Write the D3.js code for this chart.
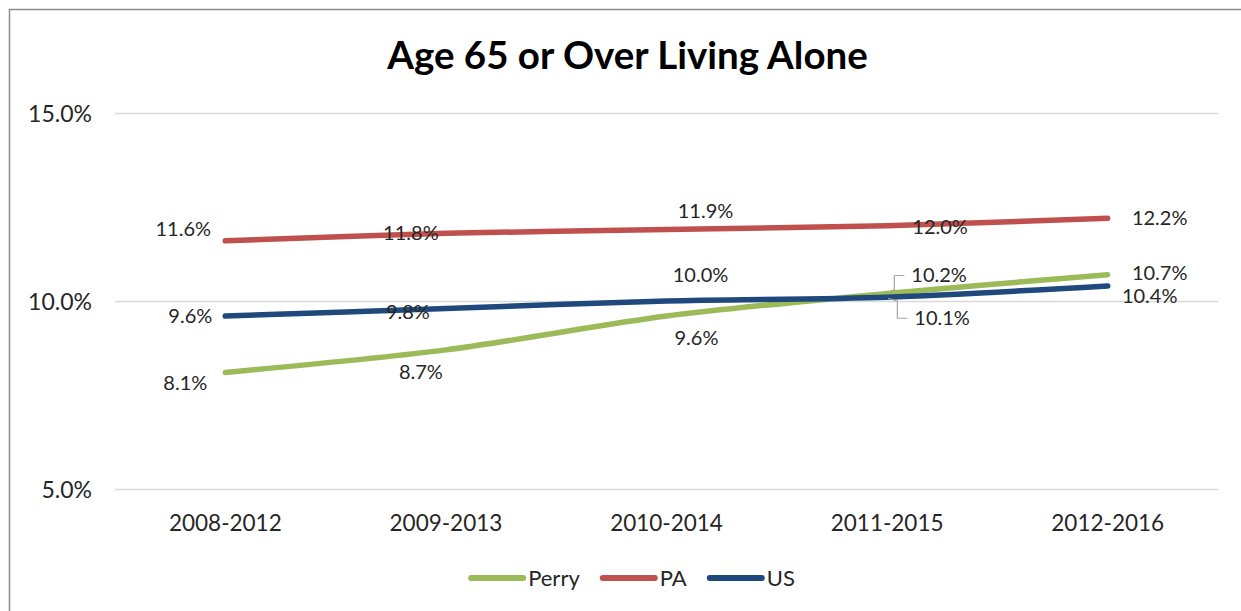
<!DOCTYPE html>
<html><head><meta charset="utf-8">
<script src="https://cdn.jsdelivr.net/npm/d3@7"></script>
<style>
html,body{margin:0;padding:0;background:#fff;overflow:hidden;}
svg{display:block;font-family:Lato,"Open Sans",sans-serif;}
</style></head><body>
<svg id="chart" width="1241" height="611"></svg>
<script>
// ---- data ----
const title = "Age 65 or Over Living Alone";
const categories = ["2008-2012","2009-2013","2010-2014","2011-2015","2012-2016"];
const seriesNames = ["Perry","PA","US"];
const perryValues = [8.1, 8.7, 9.6, 10.2, 10.7];
const paValues = [11.6, 11.8, 11.9, 12.0, 12.2];
const usValues = [9.6, 9.8, 10.0, 10.1, 10.4];
const yTickValues = [5, 10, 15];

// ---- styles / layout ----
const colors = {Perry:"#9BBB59", PA:"#C0504D", US:"#1F497D"};
const labelOffsets = {
  Perry: [[-40,11],[-25,22],[30,22],[52,-18],[52,-2]],
  PA:    [[-42,-12],[-35,0],[39,-19],[53,1],[52,0]],
  US:    [[-35,0],[-38,3],[34,-26],[55,21],[42,10]]
};
const leaderPoints = {Perry:[3,-1], US:[3,1]};

const series = [
  {name:"Perry", values:perryValues},
  {name:"PA", values:paValues},
  {name:"US", values:usValues}
];

const svg = d3.select("#chart");
const W = 1241, H = 611;
const plotL = 115, plotR = 1218, plotT = 113, plotB = 489;

svg.append("path").attr("d", `M9.5,${H+5}V9.5H${W+5}`)
  .attr("fill","none").attr("stroke","#8c8c8c").attr("stroke-width",1.5);

const x = d3.scaleBand().domain(categories).range([plotL,plotR]);
const xc = c => x(c) + x.bandwidth()/2;
const y = d3.scaleLinear().domain([5,15]).range([plotB, plotT]);

const yAxis = svg.append("g").attr("transform",`translate(${plotL},0)`)
  .call(d3.axisLeft(y).tickValues(yTickValues).tickSize(-(plotR-plotL)).tickPadding(23)
    .tickFormat(d => d.toFixed(1)+"%"));
yAxis.select(".domain").remove();
yAxis.selectAll(".tick line").attr("stroke","#d9d9d9").attr("stroke-width",1.5);
yAxis.selectAll(".tick text").attr("fill","#262626").attr("font-size","23px")
  .attr("font-family","Lato").attr("dy","0.35em");

const xAxis = svg.append("g").attr("transform",`translate(0,${plotB})`)
  .call(d3.axisBottom(x).tickSize(0));
xAxis.select(".domain").remove();
xAxis.selectAll(".tick text").attr("fill","#262626").attr("font-size","22.5px")
  .attr("font-family","Lato").attr("y",34).attr("dy","0.35em");

svg.append("text").attr("x",627.5).attr("y",69).attr("text-anchor","middle")
  .attr("font-family","Lato").attr("font-weight","bold").attr("font-size","38.5px")
  .attr("fill","#000").text(title);

const line = d3.line().x((d,i)=>xc(categories[i])).y(d=>y(d)).curve(d3.curveCardinal.tension(0.2));
series.forEach(s => {
  svg.append("path").datum(s.values).attr("d", line)
    .attr("fill","none").attr("stroke", colors[s.name]).attr("stroke-width",5.5)
    .attr("stroke-linecap","round").attr("stroke-linejoin","round");
});

series.forEach(s => {
  s.values.forEach((v,i) => {
    const px = xc(categories[i]), py = y(v);
    const [dx,dy] = labelOffsets[s.name][i];
    const t = svg.append("text").attr("x",px+dx).attr("y",py+dy).attr("dy","0.35em")
      .attr("text-anchor","middle").attr("font-family","Lato").attr("font-size","20px")
      .attr("fill","#262626").text(v.toFixed(1)+"%");
    if (leaderPoints[s.name] && leaderPoints[s.name][0] === i) {
      const w = t.node().getComputedTextLength();
      const lx0 = px+dx - w/2 - 7, lx1 = lx0 - 10, ly = py+dy;
      const dir = leaderPoints[s.name][1];
      svg.append("path")
        .attr("d", `M${lx0},${ly}H${lx1}V${py + dir*4}L${px+1},${py+dir*1}`)
        .attr("fill","none").attr("stroke","#a6a6a6").attr("stroke-width",1.2);
    }
  });
});

const legend = svg.append("g");
let lxPos = 0;
seriesNames.forEach(name => {
  const g = legend.append("g").attr("transform",`translate(${lxPos},0)`);
  g.append("line").attr("x1",3).attr("x2",55).attr("y1",0).attr("y2",0)
    .attr("stroke",colors[name]).attr("stroke-width",6).attr("stroke-linecap","round");
  const t = g.append("text").attr("x",60).attr("dy","0.35em").attr("font-family","Lato")
    .attr("font-size","22px").attr("fill","#262626").text(name);
  lxPos += 60 + t.node().getComputedTextLength() + 20;
});
const legendW = lxPos - 20;
legend.attr("transform",`translate(${631.5 - legendW/2},578)`);
</script>
</body></html>
